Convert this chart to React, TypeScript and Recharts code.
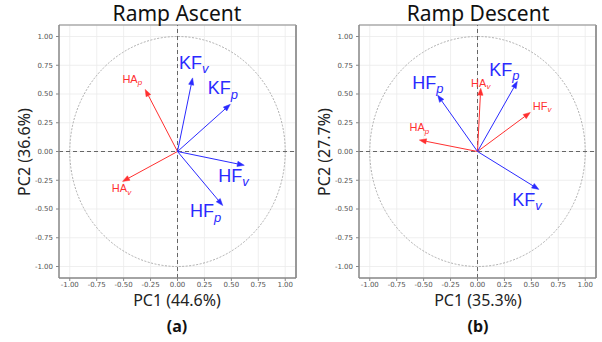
import React from 'react';
import {
  ScatterChart,
  Scatter,
  XAxis,
  YAxis,
  CartesianGrid,
  ReferenceLine,
  ReferenceArea,
} from 'recharts';

// ---- data ----
const variables = ['HA_p', 'HA_v', 'HF_p', 'HF_v', 'KF_p', 'KF_v'];
const varBase = ['HA', 'HA', 'HF', 'HF', 'KF', 'KF'];
const varSub = ['p', 'v', 'p', 'v', 'p', 'v'];
const axisTicks = [-1, -0.75, -0.5, -0.25, 0, 0.25, 0.5, 0.75, 1];

const ascentPC1 = [-0.3, -0.51, 0.42, 0.62, 0.49, 0.14];
const ascentPC2 = [0.54, -0.26, -0.47, -0.12, 0.41, 0.64];
const ascentGroup = [1, 1, 2, 2, 2, 2];
const ascentLabelX = [-0.42, -0.52, 0.26, 0.52, 0.42, 0.15];
const ascentLabelY = [0.63, -0.32, -0.52, -0.21, 0.55, 0.77];

const descentPC1 = [-0.54, 0.03, -0.37, 0.49, 0.37, 0.57];
const descentPC2 = [0.1, 0.55, 0.49, 0.34, 0.61, -0.33];
const descentGroup = [1, 1, 2, 1, 2, 2];
const descentLabelX = [-0.54, 0.03, -0.46, 0.6, 0.25, 0.46];
const descentLabelY = [0.21, 0.6, 0.6, 0.4, 0.71, -0.42];

const RED = '#ff3030';
const BLUE = '#2a2aff';
const groupColor = (g: number) => (g === 1 ? RED : BLUE);

const Arrow = (props: any) => {
  const { x1, y1, x2, y2, color } = props;
  const dx = x2 - x1;
  const dy = y2 - y1;
  const len = Math.sqrt(dx * dx + dy * dy) || 1;
  const ux = dx / len;
  const uy = dy / len;
  const hl = 7;
  const hw = 2.6;
  const bx = x2 - ux * hl;
  const by = y2 - uy * hl;
  const pts = `${x2},${y2} ${bx - uy * hw},${by + ux * hw} ${bx + uy * hw},${by - ux * hw}`;
  return (
    <g>
      <line x1={x1} y1={y1} x2={bx} y2={by} stroke={color} strokeWidth={1} />
      <polygon points={pts} fill={color} stroke={color} strokeWidth={0.5} />
    </g>
  );
};

const LabelShape = (props: any) => {
  const { cx, cy, payload } = props;
  const big = payload.g === 2;
  const fs = big ? 18 : 11;
  const color = groupColor(payload.g);
  return (
    <text
      x={cx}
      y={cy}
      textAnchor="middle"
      dominantBaseline="central"
      fill={color}
      fontFamily="Liberation Sans, Arial, sans-serif"
      fontSize={fs}
    >
      <tspan>{payload.base}</tspan>
      <tspan fontStyle="italic" fontSize={fs * 0.72} dy={fs * 0.3}>
        {payload.sub}
      </tspan>
    </text>
  );
};

const fmt = (v: number) => v.toFixed(2);

function Panel(props: {
  width: number;
  right: number;
  pc1: number[];
  pc2: number[];
  group: number[];
  labX: number[];
  labY: number[];
}) {
  const { width, right, pc1, pc2, group, labX, labY } = props;
  const labels = variables.map((v, i) => ({
    name: v,
    x: labX[i],
    y: labY[i],
    base: varBase[i],
    sub: varSub[i],
    g: group[i],
  }));
  const tickStyle = { fontSize: 7, fill: '#555', fontFamily: 'DejaVu Sans, sans-serif' };
  return (
    <ScatterChart width={width} height={342} margin={{ top: 25, right, bottom: 44, left: 0 }}>
      <CartesianGrid stroke="#ebebeb" strokeWidth={0.8} />
      <XAxis
        type="number"
        dataKey="x"
        domain={[-1.1, 1.1]}
        ticks={axisTicks}
        tickFormatter={fmt}
        allowDataOverflow
        height={20}
        tick={tickStyle}
        tickSize={3}
        tickMargin={1}
        axisLine={{ stroke: '#888', strokeWidth: 1.5 }}
        tickLine={{ stroke: '#888' }}
        interval={0}
      />
      <YAxis
        type="number"
        dataKey="y"
        domain={[-1.1, 1.1]}
        ticks={axisTicks}
        tickFormatter={fmt}
        allowDataOverflow
        width={59}
        tick={tickStyle}
        tickSize={3}
        tickMargin={3}
        axisLine={{ stroke: '#888', strokeWidth: 1.5 }}
        tickLine={{ stroke: '#888' }}
        interval={0}
      />
      <ReferenceArea
        x1={-1.1}
        x2={1.1}
        y1={-1.1}
        y2={1.1}
        ifOverflow="visible"
        shape={(p: any) => (
          <g>
            <line x1={p.x} y1={p.y} x2={p.x + p.width} y2={p.y} stroke="#888" strokeWidth={1.2} />
            <line
              x1={p.x + p.width}
              y1={p.y}
              x2={p.x + p.width}
              y2={p.y + p.height}
              stroke="#999"
              strokeWidth={2}
            />
          </g>
        )}
      />
      <ReferenceArea
        x1={-1}
        x2={1}
        y1={-1}
        y2={1}
        ifOverflow="visible"
        shape={(p: any) => (
          <ellipse
            cx={p.x + p.width / 2}
            cy={p.y + p.height / 2}
            rx={Math.abs(p.width) / 2}
            ry={Math.abs(p.height) / 2}
            fill="none"
            stroke="#999"
            strokeWidth={0.8}
            strokeDasharray="2 1.5"
          />
        )}
      />
      <ReferenceLine x={0} stroke="#666" strokeWidth={1} strokeDasharray="4 3" ifOverflow="visible" />
      <ReferenceLine y={0} stroke="#666" strokeWidth={1} strokeDasharray="4 3" ifOverflow="visible" />
      {variables.map((v, i) => (
        <ReferenceLine
          key={v}
          segment={[
            { x: 0, y: 0 },
            { x: pc1[i], y: pc2[i] },
          ]}
          ifOverflow="visible"
          shape={(p: any) => <Arrow {...p} color={groupColor(group[i])} />}
        />
      ))}
      <Scatter data={labels} isAnimationActive={false} shape={LabelShape} />
    </ScatterChart>
  );
}

const textFont = 'Noto Sans, DejaVu Sans, sans-serif';

export default function App() {
  return (
    <div style={{ position: 'absolute', left: 0, top: 0, width: 602, height: 342, background: '#fff' }}>
      <div style={{ position: 'absolute', left: 0, top: 0 }}>
        <Panel
          width={300}
          right={4}
          pc1={ascentPC1}
          pc2={ascentPC2}
          group={ascentGroup}
          labX={ascentLabelX}
          labY={ascentLabelY}
        />
      </div>
      <div style={{ position: 'absolute', left: 300, top: 0 }}>
        <Panel
          width={302}
          right={6}
          pc1={descentPC1}
          pc2={descentPC2}
          group={descentGroup}
          labX={descentLabelX}
          labY={descentLabelY}
        />
      </div>
      <svg
        width={602}
        height={342}
        style={{ position: 'absolute', left: 0, top: 0, pointerEvents: 'none' }}
      >
        <text x={177} y={21} textAnchor="middle" fontSize={21} fontFamily={textFont} fill="#111">
          Ramp Ascent
        </text>
        <text x={478} y={21} textAnchor="middle" fontSize={21} fontFamily={textFont} fill="#111">
          Ramp Descent
        </text>
        <text x={177} y={306} textAnchor="middle" fontSize={16} fontFamily={textFont} fill="#222">
          PC1 (44.6%)
        </text>
        <text x={478} y={306} textAnchor="middle" fontSize={16} fontFamily={textFont} fill="#222">
          PC1 (35.3%)
        </text>
        <text
          transform="translate(30,152) rotate(-90)"
          textAnchor="middle"
          fontSize={16}
          fontFamily={textFont}
          fill="#222"
        >
          PC2 (36.6%)
        </text>
        <text
          transform="translate(330,152) rotate(-90)"
          textAnchor="middle"
          fontSize={16}
          fontFamily={textFont}
          fill="#222"
        >
          PC2 (27.7%)
        </text>
        <text x={177} y={332} textAnchor="middle" fontSize={16} fontWeight="bold" fontFamily={textFont} fill="#111">
          (a)
        </text>
        <text x={478} y={332} textAnchor="middle" fontSize={16} fontWeight="bold" fontFamily={textFont} fill="#111">
          (b)
        </text>
      </svg>
    </div>
  );
}
